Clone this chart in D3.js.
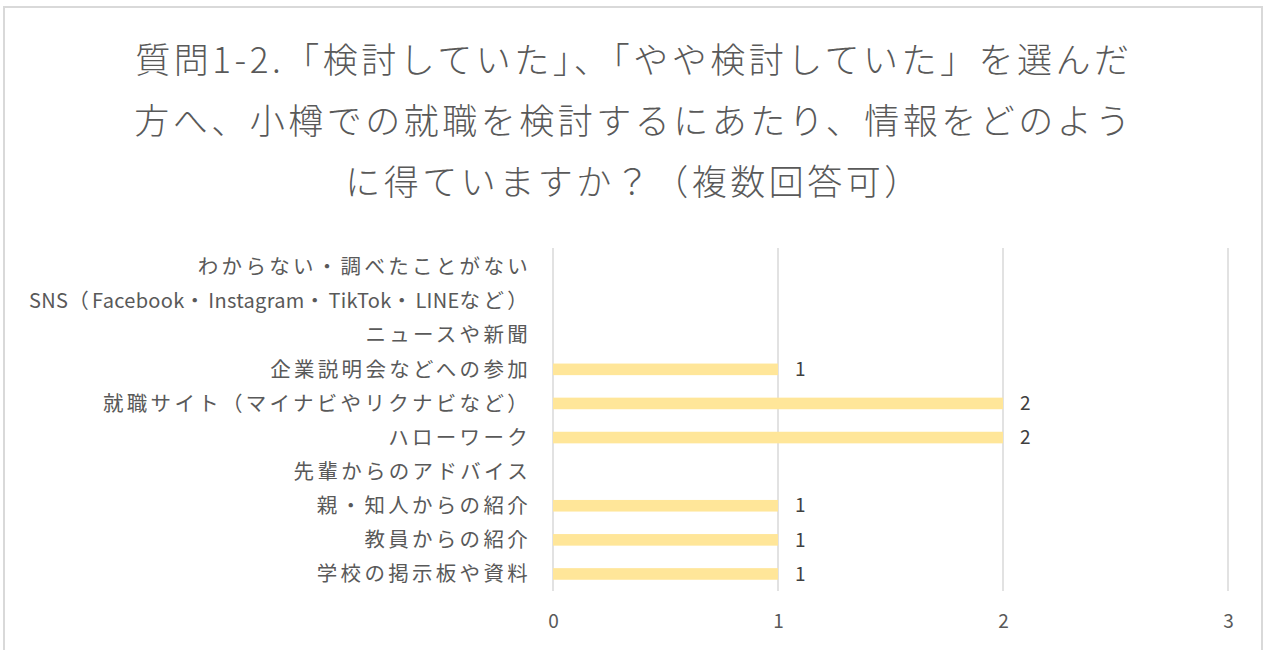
<!DOCTYPE html>
<html>
<head>
<meta charset="utf-8">
<script src="https://cdn.jsdelivr.net/npm/d3@7"></script>
<style>
  html, body { margin: 0; padding: 0; background: #fff; }
  svg { display: block; }
  text { font-family: "Noto Sans CJK JP", "Noto Sans", sans-serif; }
</style>
</head>
<body>
<svg id="chart" width="1264" height="650"></svg>
<script>
const titleLines = [
  "質問1-2.「検討していた」、「やや検討していた」を選んだ",
  "方へ、小樽での就職を検討するにあたり、情報をどのよう",
  "に得ていますか？（複数回答可）"
];
const categories = [
  "わからない・調べたことがない",
  "SNS（Facebook・Instagram・TikTok・LINEなど）",
  "ニュースや新聞",
  "企業説明会などへの参加",
  "就職サイト（マイナビやリクナビなど）",
  "ハローワーク",
  "先輩からのアドバイス",
  "親・知人からの紹介",
  "教員からの紹介",
  "学校の掲示板や資料"
];
const values = [0, 0, 0, 1, 2, 2, 0, 1, 1, 1];
const xTicks = [0, 1, 2, 3];

const svg = d3.select("#chart");

// chart border
svg.append("rect")
  .attr("x", 4).attr("y", 7).attr("width", 1258).attr("height", 660)
  .attr("fill", "none").attr("stroke", "#d9d9d9").attr("stroke-width", 2);

// title
const title = svg.append("text")
  .attr("text-anchor", "middle")
  .attr("fill", "#595959")
  .style("font-size", "35px")
  .style("font-weight", "300")
  .style("letter-spacing", "3.5px");
titleLines.forEach((t, i) => {
  title.append("tspan").attr("x", 634).attr("y", 73 + i * 61).text(t);
});

const x = d3.scaleLinear().domain([0, 3]).range([553, 1228]);
const y = d3.scaleBand().domain(categories).range([250, 591]).paddingInner(0.66).paddingOuter(0.33);

// gridlines
svg.append("g").selectAll("line").data(xTicks).join("line")
  .attr("x1", d => x(d)).attr("x2", d => x(d))
  .attr("y1", 248).attr("y2", 591)
  .attr("stroke", "#d9d9d9").attr("stroke-width", 1.5);

// bars
svg.append("g").selectAll("rect").data(categories).join("rect")
  .attr("x", x(0))
  .attr("y", d => y(d))
  .attr("width", (d, i) => x(values[i]) - x(0))
  .attr("height", y.bandwidth())
  .attr("fill", "#FFE699");

// data labels
svg.append("g").selectAll("text").data(categories.filter((d, i) => values[i] > 0)).join("text")
  .attr("x", d => x(values[categories.indexOf(d)]) + 17)
  .attr("y", d => y(d) + y.bandwidth() / 2)
  .attr("dy", "0.35em")
  .attr("fill", "#404040")
  .style("font-size", "19px")
  .text(d => values[categories.indexOf(d)]);

// category labels
const yAxis = d3.axisLeft(y).tickSize(0).tickPadding(0);
const gy = svg.append("g").attr("transform", "translate(531,0)").call(yAxis);
gy.select(".domain").remove();
gy.selectAll("text")
  .attr("fill", "#595959")
  .attr("dy", "0.35em")
  .style("font-size", "20.5px")
  .style("font-family", "'Noto Sans CJK JP', sans-serif")
  .each(function(d) {
    const t = d3.select(this);
    t.text(null);
    const runs = d.match(/[\x20-\x7E]+|[^\x20-\x7E]+/g);
    runs.forEach(r => {
      const latin = /^[\x20-\x7E]+$/.test(r);
      t.append("tspan")
        .style("letter-spacing", latin ? "0.3px" : "3.3px")
        .style("font-size", latin ? "20px" : "20.5px")
        .text(r);
    });
  });

// x axis labels
const xAxis = d3.axisBottom(x).tickValues(xTicks).tickFormat(d3.format("d")).tickSize(0).tickPadding(0);
const gx = svg.append("g").attr("transform", "translate(0,621)").call(xAxis);
gx.select(".domain").remove();
gx.selectAll("text")
  .attr("fill", "#595959")
  .attr("dy", "0.35em")
  .style("font-size", "19px")
  .style("font-family", "'Noto Sans CJK JP', sans-serif");
</script>
</body>
</html>
